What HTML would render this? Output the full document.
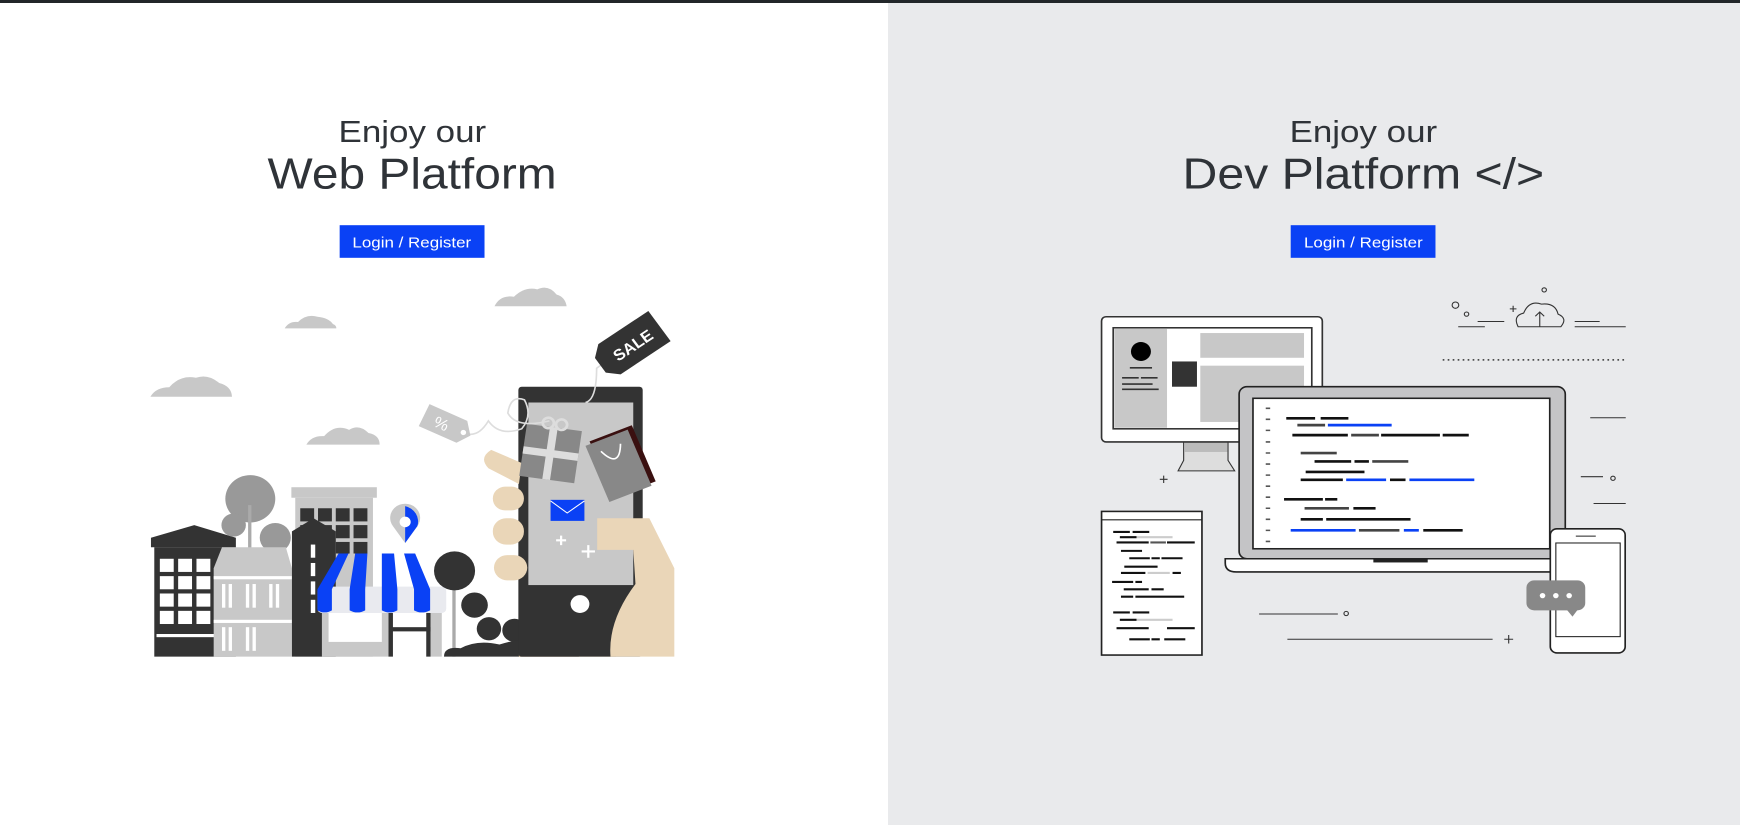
<!DOCTYPE html>
<html><head><meta charset="utf-8"><style>
html,body{margin:0;padding:0;width:1740px;height:825px;overflow:hidden;background:#fff}
svg{position:absolute;top:0}
text{font-family:"Liberation Sans",sans-serif}
</style></head><body>
<svg style="left:0" width="888" height="825" viewBox="0 0 1600 1568" preserveAspectRatio="none">
<rect width="1600" height="1568" fill="#fff"/>
<text x="610" y="270" font-size="58" fill="#2f3338" textLength="266" lengthAdjust="spacingAndGlyphs">Enjoy our</text>
<text x="482" y="358" font-size="82" fill="#2f3338" textLength="521" lengthAdjust="spacingAndGlyphs">Web Platform</text>
<rect x="612" y="428" width="261" height="62" fill="#0a41f5"/>
<text x="635" y="470" font-size="28" fill="#fff" textLength="214" lengthAdjust="spacingAndGlyphs">Login / Register</text>
<g fill="#c8c8c8">
<path d="M891 582 q10-22 35-18 q20-20 42-14 q20-10 35 10 q15 4 18 22z"/>
<path d="M513 624 q8-14 24-12 q15-16 35-10 q20 2 28 14 q6 2 6 8z"/>
<path d="M271 754 q10-18 34-18 q20-24 48-18 q22-8 42 10 q22 6 23 26z"/>
<path d="M552 845 q10-18 32-16 q20-24 45-12 q18-12 35 6 q20 4 20 22z"/>
</g>
<path d="M272 1022 L350 998 L425 1022 L425 1040 L272 1040z" fill="#333"/>
<rect x="278" y="1040" width="147" height="208" fill="#333"/>
<g fill="#fff">
<rect x="288" y="1062" width="25" height="25"/><rect x="321" y="1062" width="25" height="25"/><rect x="354" y="1062" width="25" height="25"/>
<rect x="288" y="1095" width="25" height="25"/><rect x="321" y="1095" width="25" height="25"/><rect x="354" y="1095" width="25" height="25"/>
<rect x="288" y="1128" width="25" height="25"/><rect x="321" y="1128" width="25" height="25"/><rect x="354" y="1128" width="25" height="25"/>
<rect x="288" y="1161" width="25" height="25"/><rect x="321" y="1161" width="25" height="25"/><rect x="354" y="1161" width="25" height="25"/>
<rect x="282" y="1205" width="140" height="6"/>
</g>
<circle cx="451" cy="948" r="45" fill="#999"/>
<rect x="447" y="960" width="6" height="90" fill="#aaa"/>
<circle cx="421" cy="998" r="22" fill="#999"/>
<circle cx="496" cy="1022" r="28" fill="#999"/>
<path d="M385 1080 L400 1040 L515 1040 L526 1080 L526 1248 L385 1248z" fill="#c8c8c8"/>
<g fill="#fff"><rect x="385" y="1095" width="141" height="6"/><rect x="385" y="1178" width="141" height="6"/>
<rect x="400" y="1110" width="6" height="45"/><rect x="412" y="1110" width="6" height="45"/><rect x="443" y="1110" width="6" height="45"/><rect x="455" y="1110" width="6" height="45"/><rect x="485" y="1110" width="6" height="45"/><rect x="497" y="1110" width="6" height="45"/>
<rect x="400" y="1192" width="6" height="45"/><rect x="412" y="1192" width="6" height="45"/><rect x="443" y="1192" width="6" height="45"/><rect x="455" y="1192" width="6" height="45"/></g>
<rect x="525" y="926" width="154" height="20" fill="#c8c8c8"/>
<rect x="532" y="946" width="140" height="302" fill="#c8c8c8"/>
<g fill="#333"><rect x="541" y="966" width="25" height="25"/><rect x="573" y="966" width="25" height="25"/><rect x="605" y="966" width="25" height="25"/><rect x="637" y="966" width="25" height="25"/>
<rect x="541" y="998" width="25" height="25"/><rect x="573" y="998" width="25" height="25"/><rect x="605" y="998" width="25" height="25"/><rect x="637" y="998" width="25" height="25"/>
<rect x="605" y="1030" width="25" height="22"/><rect x="637" y="1030" width="25" height="22"/></g>
<path d="M526 1010 L565 985 L605 1010 L605 1248 L526 1248z" fill="#333"/>
<g fill="#fff"><rect x="560" y="1035" width="8" height="25"/><rect x="560" y="1070" width="8" height="25"/><rect x="560" y="1105" width="8" height="25"/><rect x="560" y="1140" width="8" height="25"/></g>
<rect x="580" y="1163" width="120" height="85" fill="#c8c8c8"/>
<rect x="592" y="1165" width="96" height="55" fill="#fff"/>
<rect x="700" y="1163" width="8" height="85" fill="#333"/><rect x="768" y="1163" width="8" height="85" fill="#333"/>
<rect x="700" y="1192" width="76" height="8" fill="#333"/>
<rect x="776" y="1150" width="20" height="98" fill="#c8c8c8"/>
<rect x="572" y="1115" width="232" height="50" fill="#e9eaef" rx="8"/>
<g fill="#0a41f5">
<path d="M572 1120 L610 1052 L628 1052 L598 1120 L598 1160 Q585 1168 572 1160z"/>
<path d="M630 1120 L640 1052 L662 1052 L658 1120 L658 1160 Q644 1168 630 1160z"/>
<path d="M688 1120 L688 1052 L710 1052 L716 1120 L716 1160 Q702 1168 688 1160z"/>
<path d="M746 1120 L728 1052 L748 1052 L775 1120 L775 1160 Q760 1168 746 1160z"/>
</g>
<path d="M730 1032 L708 1000 A27 27 0 1 1 752 1000z" fill="#c8c8c8"/>
<path d="M730 1032 L730 962 A30 30 0 0 1 752 1000z" fill="#0a41f5"/>
<circle cx="730" cy="992" r="10" fill="#fff"/>
<rect x="815" y="1090" width="6" height="158" fill="#aaa"/>
<circle cx="819" cy="1085" r="37" fill="#333"/>
<circle cx="855" cy="1150" r="24" fill="#333"/>
<circle cx="881" cy="1195" r="22" fill="#333"/>
<circle cx="927" cy="1198" r="22" fill="#333"/>
<path d="M800 1248 Q800 1228 830 1232 Q860 1215 900 1225 Q960 1205 1000 1222 Q1040 1225 1043 1248z" fill="#333"/>
<path d="M935 1180 L1110 1180 L1110 1248 L935 1248z" fill="#dfc294"/>
<rect x="934" y="735" width="224" height="513" rx="6" fill="#333"/>
<rect x="952" y="765" width="189" height="347" fill="#c8c8c8"/>
<circle cx="1045" cy="1148" r="17" fill="#fff"/>
<rect x="992" y="950" width="61" height="40" fill="#0a41f5"/>
<path d="M992 952 L1022 975 L1053 952" stroke="#fff" stroke-width="2" fill="none"/>
<path d="M1011 1018v18M1002 1027h18M1060 1036v24M1048 1048h24" stroke="#fff" stroke-width="4"/>
<path d="M1076 985 L1170 985 L1215 1080 L1215 1248 L1100 1248 Q1095 1180 1145 1110 L1141 1045 L1076 1045z" fill="#ead6b8"/>
<g fill="#ead6b8">
<path d="M940 880 L885 855 Q862 870 880 890 L935 920z"/>
<rect x="888" y="925" width="56" height="45" rx="22"/>
<rect x="888" y="985" width="56" height="50" rx="24"/>
<rect x="890" y="1055" width="60" height="48" rx="24"/>
</g>
<g transform="rotate(8 992 862)"><rect x="942" y="812" width="100" height="100" fill="#888"/><rect x="984" y="812" width="14" height="100" fill="#ddd"/><rect x="942" y="855" width="100" height="14" fill="#ddd"/>
<circle cx="980" cy="805" r="10" fill="none" stroke="#ddd" stroke-width="5"/><circle cx="1004" cy="805" r="10" fill="none" stroke="#ddd" stroke-width="5"/></g>
<g transform="rotate(-22 1120 875)"><rect x="1080" y="820" width="82" height="115" fill="#3a1010"/><rect x="1070" y="825" width="82" height="115" fill="#888"/>
<path d="M1092 845 Q1111 890 1130 845" stroke="#fff" stroke-width="3" fill="none"/></g>
<path d="M835 822 Q860 835 880 800 Q900 830 940 815 Q960 790 945 760 Q920 750 915 785 Q930 815 990 800 M1055 765 Q1075 760 1075 700 L1088 690" stroke="#ddd" stroke-width="3" fill="none"/>
<g transform="rotate(-35 1135 657)"><path d="M1070 640 L1090 622 L1200 622 L1200 692 L1090 692 L1070 674z" fill="#333"/>
<text x="1140" y="670" font-size="30" font-weight="bold" fill="#fff" text-anchor="middle">SALE</text></g>
<g transform="rotate(25 805 808)"><path d="M760 785 L835 785 L852 808 L835 831 L760 831z" fill="#c8c8c8"/>
<text x="795" y="820" font-size="30" fill="#fff" text-anchor="middle">%</text><circle cx="838" cy="808" r="5" fill="#fff"/></g>
</svg>

<svg style="left:888px" width="852" height="825" viewBox="32 0 1536 1568" preserveAspectRatio="none">
<rect x="0" width="1600" height="1568" fill="#e9eaec"/>
<text x="756" y="270" font-size="58" fill="#2f3338" textLength="266" lengthAdjust="spacingAndGlyphs">Enjoy our</text>
<text x="563" y="358" font-size="82" fill="#2f3338" textLength="652" lengthAdjust="spacingAndGlyphs">Dev Platform &lt;/&gt;</text>
<rect x="758" y="428" width="261" height="62" fill="#0a41f5"/>
<text x="782" y="470" font-size="28" fill="#fff" textLength="214" lengthAdjust="spacingAndGlyphs">Login / Register</text>
<g stroke="#333" stroke-width="2" fill="none">
<circle cx="1055" cy="580" r="6"/><circle cx="1075" cy="597" r="4"/><circle cx="1215" cy="551" r="4"/>
<path d="M1060 621h48M1095 611h48M1270 611h45M1270 621h92M1153 587h12M1159 581v12"/>
<path d="M1168 621 Q1158 600 1178 595 Q1188 570 1210 578 Q1235 575 1240 597 Q1258 605 1245 621z"/>
<path d="M1207 621v-28M1199 601l8-8l8 8"/>
<path d="M1032 684h330" stroke-dasharray="3 6" stroke-width="3"/>
<path d="M1298 794h64M1281 906h40M1304 957h58M701 1167h142M752 1215h370M1143 1215h16M1151 1207v16M522 911h14M529 904v14"/>
<circle cx="858" cy="1166" r="4"/><circle cx="1339" cy="909" r="4"/>
</g>
<path d="M565 840 L645 840 L645 875 L657 895 L555 895 L565 875z" fill="#ddd" stroke="#333" stroke-width="2"/>
<rect x="566" y="841" width="78" height="18" fill="#bbb"/>
<rect x="417" y="602" width="398" height="238" rx="8" fill="#fff" stroke="#333" stroke-width="3"/>
<rect x="438" y="623" width="358" height="192" fill="#fff" stroke="#333" stroke-width="3"/>
<rect x="440" y="625" width="95" height="188" fill="#c8c8c8"/>
<circle cx="488" cy="668" r="18" fill="#000"/>
<path d="M468 699h40M454 718h30M488 718h30M454 730h55M454 740h66" stroke="#333" stroke-width="3"/>
<rect x="544" y="687" width="45" height="48" fill="#333"/>
<rect x="595" y="633" width="187" height="47" fill="#c8c8c8"/>
<rect x="595" y="695" width="187" height="107" fill="#c8c8c8"/>
<rect x="665" y="735" width="588" height="327" rx="14" fill="#c4c4c6" stroke="#222" stroke-width="3"/>
<rect x="690" y="757" width="535" height="286" fill="#fff" stroke="#222" stroke-width="3"/>
<path d="M640 1062 H1253 V1087 H660 Q640 1087 640 1070z" fill="#fff" stroke="#222" stroke-width="3"/>
<rect x="907" y="1062" width="98" height="7" fill="#222"/>
<g stroke-width="5">
<path d="M713 776h8M713 797h8M713 818h8M713 840h8M713 861h8M713 882h8M713 903h8M713 924h8M713 945h8M713 966h8M713 987h8M713 1008h8M713 1029h8" stroke="#555" stroke-width="3"/>
<path d="M750 795h52M812 795h50M761 827h100M921 827h106M1032 827h47M801 877h66M873 877h26M785 897h106M776 912h76M937 912h28M746 949h70M820 949h22M871 966h40M776 987h40M822 987h152M997 1008h71" stroke="#111"/>
<path d="M770 808h50M867 827h50M776 861h65M905 877h65M783 966h80M881 1008h73" stroke="#444"/>
<path d="M825 808h115M858 912h72M972 912h117M758 1008h117M962 1008h27" stroke="#0a41f5"/>
</g>
<rect x="417" y="972" width="181" height="273" fill="#fff" stroke="#222" stroke-width="3"/>
<path d="M417 988h181" stroke="#222" stroke-width="2"/>
<g stroke-width="4">
<path d="M438 1011h30M473 1011h30M450 1021h30M444 1031h58M535 1031h50M452 1047h38M467 1061h37M507 1061h15M525 1061h38M458 1077h60M452 1089h44M545 1089h15M436 1106h38M478 1106h12M457 1120h45M507 1120h22M452 1134h22M478 1134h88M438 1164h30M473 1164h30M450 1178h30M444 1194h58M535 1194h50M467 1215h37M507 1215h15M530 1215h38" stroke="#111"/>
<path d="M480 1021h65M480 1178h65M500 1089h40" stroke="#ccc"/>
<path d="M505 1031h28" stroke="#555"/>
</g>
<rect x="1226" y="1005" width="135" height="236" rx="12" fill="#fff" stroke="#222" stroke-width="3"/>
<rect x="1236" y="1032" width="116" height="178" fill="#fff" stroke="#222" stroke-width="2"/>
<path d="M1272 1019h36" stroke="#222" stroke-width="2"/>
<rect x="1183" y="1103" width="106" height="57" rx="14" fill="#888"/>
<path d="M1255 1158 L1266 1172 L1276 1158z" fill="#888"/>
<circle cx="1212" cy="1132" r="5" fill="#fff"/><circle cx="1236" cy="1132" r="5" fill="#fff"/><circle cx="1260" cy="1132" r="5" fill="#fff"/>
</svg>
<div style="position:absolute;left:0;top:0;width:1740px;height:3px;background:#222629"></div>
</body></html>
